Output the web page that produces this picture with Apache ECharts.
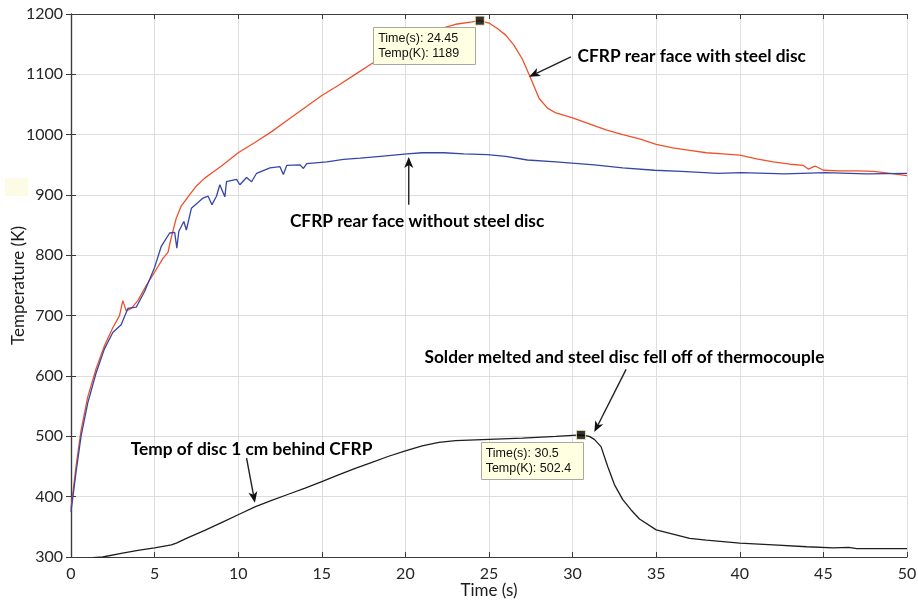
<!DOCTYPE html>
<html>
<head>
<meta charset="utf-8">
<script src="https://cdn.jsdelivr.net/npm/echarts@6/dist/echarts.min.js"></script>
<style>
  html, body { margin: 0; padding: 0; background: #fff; }
  #chart { width: 918px; height: 604px; }
</style>
</head>
<body>
<div id="chart"></div>
<script>
// CFRP rear face with steel disc (red)
const redTime = [0, 0.3, 0.6, 1.0, 1.5, 2.0, 2.5, 2.9, 3.1, 3.3, 3.6, 4.0, 4.5, 5.0, 5.5, 5.8, 6.0, 6.3, 6.6, 7.0, 7.5, 8.0, 8.5, 9.0, 10, 11, 12, 13, 14, 15, 16, 17, 18, 19, 20, 21, 22, 23, 24, 24.45, 25, 25.5, 26, 26.5, 27, 27.5, 28, 28.5, 29, 30, 31, 32, 33, 34, 35, 36, 37, 38, 39, 40, 41, 42, 43, 43.8, 44.1, 44.5, 45, 46, 47, 48, 49, 50];
const redTemp = [380, 450, 510, 565, 612, 650, 680, 700, 725, 708, 712, 725, 750, 772, 795, 805, 830, 862, 882, 897, 915, 928, 938, 948, 970, 987, 1005, 1025, 1045, 1065, 1082, 1100, 1118, 1134, 1150, 1163, 1175, 1183, 1187, 1189, 1185, 1176, 1165, 1148, 1125, 1093, 1060, 1044, 1036, 1028, 1018, 1008, 1000, 993, 984, 978, 974, 970, 968, 966, 960, 955, 951, 949, 943, 948, 941, 940, 940, 939, 936, 932];

// CFRP rear face without steel disc (blue)
const blueTime = [0, 0.3, 0.6, 1.0, 1.5, 2.0, 2.5, 3.0, 3.4, 3.9, 4.4, 5.0, 5.4, 5.9, 6.2, 6.33, 6.45, 6.75, 6.9, 7.2, 7.9, 8.2, 8.43, 8.7, 8.9, 9.2, 9.3, 9.9, 10.1, 10.5, 10.8, 11.1, 11.9, 12.5, 12.7, 12.9, 13.7, 13.9, 14.1, 15.3, 16.3, 17.3, 18.5, 20.1, 21, 22.3, 23.5, 24.9, 26, 27.3, 29, 31.3, 33, 34.9, 36.5, 38.7, 40.1, 42.7, 45.1, 47.6, 50];
const blueTemp = [375, 440, 500, 555, 605, 645, 672, 685, 712, 714, 740, 780, 815, 837, 838, 812, 840, 856, 842, 878, 895, 898, 884, 898, 917, 897, 922, 926, 917, 929, 922, 936, 945, 947, 934, 949, 950, 944, 952, 955, 959, 961, 964, 968, 970, 970, 968, 967, 964, 958, 955, 950, 945, 941, 939, 936, 937, 935, 937, 935, 936];

// Temp of disc 1 cm behind CFRP (black)
const discTime = [1.3, 1.9, 3, 4, 5, 6, 6.3, 7, 8, 9, 10, 11, 12, 13, 14, 15, 16, 17, 18, 19, 20, 21, 22, 23, 25, 27, 29, 30.5, 31, 31.3, 31.7, 32.1, 32.5, 33, 33.5, 34, 35, 36, 37, 38, 40, 42, 44, 45.6, 46.5, 47, 50];
const discTemp = [299, 300, 306, 311, 315, 320, 323, 332, 344, 357, 370, 383, 394, 404, 414, 425, 436, 447, 457, 467, 476, 484, 490, 493, 495, 497, 500, 502.4, 500, 495, 483, 450, 420, 395, 378, 363, 345, 338, 331, 328, 323, 320, 317, 315, 316, 314, 314];

const xTicks = [0, 50, 5];     // min, max, interval
const yTicks = [300, 1200, 100];

const datatips = [
  { t: 24.45, v: 1189, lines: ['Time(s): 24.45', 'Temp(K): 1189'], at: [18.07, 1179] },
  { t: 30.5, v: 502.4, lines: ['Time(s): 30.5', 'Temp(K): 502.4'], at: [24.5, 491] }
];

const notes = [
  { text: 'CFRP rear face with steel disc', at: [30.3, 1129], align: 'left', from: [29.9, 1129], to: [27.4, 1096] },
  { text: 'CFRP rear face without steel disc', at: [20.7, 857], align: 'center', from: [20.2, 884], to: [20.2, 963] },
  { text: 'Solder melted and steel disc fell off of thermocouple', at: [33.1, 630], align: 'center', from: [33.2, 611], to: [31.3, 507] },
  { text: 'Temp of disc 1 cm behind CFRP', at: [10.8, 479], align: 'center', from: [10.5, 464], to: [11.0, 390] }
];

const zip = (a, b) => a.map((x, i) => [x, b[i]]);

const axisColor = '#3c3c3c';
const labelFont = { fontFamily: 'Lato', fontSize: 16, color: '#262626' };

var myChart = echarts.init(document.getElementById('chart'));

const xBase = {
  type: 'value', min: xTicks[0], max: xTicks[1], interval: xTicks[2],
  axisLine: { show: true, lineStyle: { color: axisColor, width: 1.2 } },
  axisTick: { show: true, inside: true, length: 5, lineStyle: { color: axisColor } }
};
const yBase = {
  type: 'value', min: yTicks[0], max: yTicks[1], interval: yTicks[2],
  axisLine: { show: true, lineStyle: { color: axisColor, width: 1.2 } },
  axisTick: { show: true, inside: true, length: 5, lineStyle: { color: axisColor } }
};

myChart.setOption({
  animation: false,
  backgroundColor: '#fff',
  grid: { left: 71, right: 11, top: 14, bottom: 47, containLabel: false, outerBoundsMode: 'none' },
  xAxis: [
    Object.assign({}, xBase, {
      position: 'bottom',
      name: 'Time (s)', nameLocation: 'middle', nameGap: 25, nameMoveOverlap: false,
      nameTextStyle: { fontFamily: 'Lato', fontSize: 17, color: '#1a1a1a' },
      axisLabel: Object.assign({ margin: 9, formatter: v => String(v) }, labelFont),
      splitLine: { show: true, lineStyle: { color: '#dedede', width: 1 } }
    }),
    Object.assign({}, xBase, { position: 'top', axisLabel: { show: false }, splitLine: { show: false } })
  ],
  yAxis: [
    Object.assign({}, yBase, {
      position: 'left',
      name: 'Temperature (K)', nameLocation: 'middle', nameGap: 44, nameMoveOverlap: false,
      nameTextStyle: { fontFamily: 'Lato', fontSize: 17, color: '#1a1a1a' },
      axisLabel: Object.assign({ margin: 8, formatter: v => String(v) }, labelFont),
      splitLine: { show: true, lineStyle: { color: '#dedede', width: 1 } }
    }),
    Object.assign({}, yBase, { position: 'right', axisLabel: { show: false }, splitLine: { show: false } })
  ],
  series: [
    {
      name: 'with steel disc', type: 'line', data: zip(redTime, redTemp),
      showSymbol: false, lineStyle: { color: '#f0502a', width: 1.3 }
    },
    {
      name: 'without steel disc', type: 'line', data: zip(blueTime, blueTemp),
      showSymbol: false, lineStyle: { color: '#3546a6', width: 1.3 }
    },
    {
      name: 'disc', type: 'line', data: zip(discTime, discTemp),
      showSymbol: false, lineStyle: { color: '#1e1e1e', width: 1.3 }
    },
    {
      name: 'datatips', type: 'scatter', z: 10,
      data: datatips.map(d => [d.t, d.v]),
      symbol: 'rect', symbolSize: 9,
      itemStyle: { color: '#000', borderColor: '#f5f0b0', borderWidth: 1 }
    }
  ]
});

// annotations placed from data coordinates
const px = p => myChart.convertToPixel({ gridIndex: 0 }, p);
const graphics = [];

// faint yellow smudge left of the y axis in the reference
graphics.push({ type: 'rect', shape: { x: 5, y: 178, width: 23, height: 18 }, style: { fill: '#fcfce6' }, z: 0 });

datatips.forEach(d => {
  const p = px(d.at);
  graphics.push({
    type: 'rect', z: 20,
    shape: { x: Math.round(p[0]) + 0.5, y: Math.round(p[1]) + 0.5, width: 102, height: 37 },
    style: { fill: '#ffffe1', stroke: '#a8a8a0', lineWidth: 1 }
  });
  graphics.push({
    type: 'text', z: 21, x: p[0] + 5, y: p[1] + 4,
    style: { text: d.lines.join('\n'), fontFamily: 'Liberation Sans', fontSize: 12.5, lineHeight: 15, fill: '#111' }
  });
});

notes.forEach(n => {
  const p = px(n.at);
  graphics.push({
    type: 'text', z: 20, x: p[0], y: p[1],
    style: { text: n.text, fontFamily: 'Lato', fontWeight: 'bold', fontSize: 17.3, fill: '#000', align: n.align, verticalAlign: 'middle' }
  });
  const a = px(n.from), b = px(n.to);
  const ang = Math.atan2(b[1] - a[1], b[0] - a[0]);
  const L = 11, W = 4.5;
  const bx = b[0] - L * Math.cos(ang), by = b[1] - L * Math.sin(ang);
  const nx = -Math.sin(ang), ny = Math.cos(ang);
  graphics.push({ type: 'line', z: 20, shape: { x1: a[0], y1: a[1], x2: bx + 3 * Math.cos(ang), y2: by + 3 * Math.sin(ang) }, style: { stroke: '#222', lineWidth: 1.4 } });
  graphics.push({
    type: 'polygon', z: 20,
    shape: { points: [[b[0], b[1]], [bx + W * nx, by + W * ny], [bx + 3 * Math.cos(ang), by + 3 * Math.sin(ang)], [bx - W * nx, by - W * ny]] },
    style: { fill: '#111' }
  });
});

myChart.setOption({ graphic: graphics });
</script>
</body>
</html>
